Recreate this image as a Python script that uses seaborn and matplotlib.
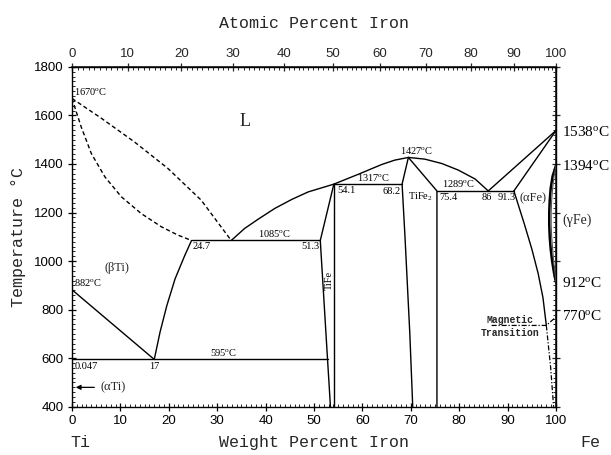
import numpy as np
import pandas as pd
import matplotlib
matplotlib.use('Agg')
from matplotlib import pyplot as plt
from matplotlib.ticker import MultipleLocator, FixedLocator, NullFormatter
import seaborn as sns

# Ti-Fe phase diagram, weight percent Fe vs temperature (deg C)
liq_left_wt = [0, 6.1, 12.9, 19.8, 26.7, 32.9]
liq_left_T = [1670, 1588, 1491, 1382, 1251, 1085]
sol_beta_wt = [0, 1.9, 4.0, 6.8, 10.2, 14.3, 18.5, 21.9, 24.7]
sol_beta_T = [1670, 1553, 1443, 1347, 1265, 1196, 1141, 1107, 1085]
liq_mid_wt = [32.9, 35.7, 38.5, 41.9, 45.4, 48.8, 54.1, 59.2, 64.0, 66.7, 69.5,
              72.9, 76.4, 79.8, 83.3, 86.0]
liq_mid_T = [1085, 1135, 1173, 1217, 1254, 1285, 1317, 1358, 1398, 1416, 1427,
             1420, 1402, 1375, 1338, 1289]
beta_solvus_wt = [17.0, 18.2, 19.6, 21.3, 23.3, 24.7]
beta_solvus_T = [595, 708, 817, 927, 1023, 1085]
beta_transus_wt = [0, 17.0]
beta_transus_T = [882, 595]
tife_left_wt = [54.1, 51.3, 52.8, 53.4]
tife_left_T = [1317, 1085, 595, 400]
tife_right_wt = [54.1, 54.1]
tife_right_T = [1317, 400]
tife2_left_wt = [69.5, 68.2, 68.8, 69.3, 69.8, 70.4]
tife2_left_T = [1427, 1317, 1100, 900, 700, 400]
tife2_right_wt = [69.5, 75.4, 75.4]
tife2_right_T = [1427, 1289, 400]
fe_liq_wt = [86.0, 100.0]
fe_liq_T = [1289, 1538]
fe_sol_wt = [91.3, 100.0]
fe_sol_T = [1289, 1538]
alpha_solvus_wt = [91.3, 93.5, 95.0, 96.3, 97.3, 98.0]
alpha_solvus_T = [1289, 1150, 1050, 950, 850, 735]
alpha_solvus_low_wt = [98.0, 98.9, 99.5]
alpha_solvus_low_T = [735, 560, 400]
gamma_T = [1394, 1350, 1300, 1250, 1200, 1150, 1100, 1050, 1000, 950, 912]
gamma_outer_wt = [100, 99.3, 98.9, 98.7, 98.6, 98.6, 98.7, 98.9, 99.2, 99.6, 100]
gamma_inner_wt = [100, 99.6, 99.3, 99.1, 99.0, 99.0, 99.1, 99.3, 99.5, 99.8, 100]
magnetic_wt = [86.7, 98.0, 100.0]
magnetic_T = [735, 735, 770]

isotherm_T = [1085, 595, 1317, 1289]
isotherm_from = [24.7, 0.0, 54.1, 75.4]
isotherm_to = [51.3, 52.8, 68.2, 91.3]

top_ticks = [0, 10, 20, 30, 40, 50, 60, 70, 80, 90, 100]

M_FE, M_TI = 55.845, 47.867


def wt2at(w):
    w = np.clip(np.asarray(w, dtype=float), 0, 100)
    a = w / M_FE
    b = (100 - w) / M_TI
    return 100 * a / np.maximum(a + b, 1e-12)


def at2wt(a):
    a = np.clip(np.asarray(a, dtype=float), 0, 100)
    f = a * M_FE
    t = (100 - a) * M_TI
    return 100 * f / np.maximum(f + t, 1e-12)


sns.set_theme(style='white')
plt.rcParams['font.family'] = ['Liberation Sans', 'DejaVu Sans']
plt.rcParams['mathtext.fontset'] = 'custom'
plt.rcParams['mathtext.rm'] = 'Liberation Serif'
plt.rcParams['mathtext.it'] = 'Liberation Serif:italic'

fig = plt.figure(figsize=(6.11, 4.55), dpi=100)
ax = fig.add_axes([0.1178, 0.106, 0.7922, 0.747])

solid = dict(color='black', lw=1.0, sort=False, estimator=None, ax=ax)


def curve(xs, ys, **kw):
    df = pd.DataFrame({'wt': xs, 'T': ys})
    opts = dict(solid)
    opts.update(kw)
    sns.lineplot(data=df, x='wt', y='T', **opts)


dash = (0, (3, 2))
dashdot = (0, (4, 1.5, 1, 1.5))
curve(liq_left_wt, liq_left_T, linestyle=dash)
curve(sol_beta_wt, sol_beta_T, linestyle=dash)
curve(liq_mid_wt, liq_mid_T)
curve(beta_solvus_wt, beta_solvus_T)
curve(beta_transus_wt, beta_transus_T)
curve(tife_left_wt, tife_left_T)
curve(tife_right_wt, tife_right_T)
curve(tife2_left_wt, tife2_left_T)
curve(tife2_right_wt, tife2_right_T)
curve(fe_liq_wt, fe_liq_T)
curve(fe_sol_wt, fe_sol_T)
curve(alpha_solvus_wt, alpha_solvus_T)
curve(alpha_solvus_low_wt, alpha_solvus_low_T, linestyle=dashdot, lw=0.9)
curve(gamma_outer_wt, gamma_T, lw=1.8)
curve(gamma_inner_wt, gamma_T, lw=0.8, color='#555555')
curve(magnetic_wt, magnetic_T, linestyle=dashdot, lw=0.9)
for T, a, b in zip(isotherm_T, isotherm_from, isotherm_to):
    curve([a, b], [T, T])

ax.set_xlim(0, 100)
ax.set_ylim(400, 1800)
ax.xaxis.set_major_locator(MultipleLocator(10))
ax.xaxis.set_minor_locator(MultipleLocator(1))
ax.yaxis.set_major_locator(MultipleLocator(200))
ax.yaxis.set_minor_locator(MultipleLocator(20))
ax.tick_params(which='major', direction='inout', length=6, width=0.9,
               labelsize=9.5, pad=3, left=True, bottom=True, colors='black')
ax.tick_params(which='minor', direction='in', length=2.5, width=0.7,
               left=True, bottom=True)
for s in ax.spines.values():
    s.set_color('black')
    s.set_linewidth(1.0)
ax.set_xlabel('Weight Percent Iron', family='Liberation Mono', fontsize=12, labelpad=6)
ax.set_ylabel('Temperature °C', family='Liberation Mono', fontsize=12, labelpad=6)

top = ax.secondary_xaxis('top', functions=(wt2at, at2wt))
top.xaxis.set_major_locator(FixedLocator(top_ticks))
top.xaxis.set_minor_locator(FixedLocator(list(range(1, 100))))
top.tick_params(which='major', direction='inout', length=6, width=0.9, labelsize=9.5, pad=2)
top.tick_params(which='minor', direction='in', length=2.5, width=0.7)
top.set_xlabel('Atomic Percent Iron', family='Liberation Mono', fontsize=12, labelpad=14)

right = ax.secondary_yaxis('right')
right.yaxis.set_major_locator(MultipleLocator(200))
right.yaxis.set_minor_locator(MultipleLocator(20))
right.yaxis.set_major_formatter(NullFormatter())
right.tick_params(which='major', direction='inout', length=6, width=0.9)
right.tick_params(which='minor', direction='in', length=2.5, width=0.7)

serif = 'Liberation Serif'
deg = r'$^{\rm o}$C'
small = dict(family=serif, fontsize=7.5, color='black')
ax.text(0.5, 1678, '1670' + deg, ha='left', va='bottom', **small)
ax.text(35.8, 1574, 'L', family=serif, fontsize=13, ha='center', va='center')
ax.text(41.9, 1092, '1085' + deg, ha='center', va='bottom', **small)
ax.text(25.0, 1060, '24.7', ha='left', va='center', **small)
ax.text(51.1, 1060, '51.3', ha='right', va='center', **small)
ax.text(54.8, 1290, '54.1', ha='left', va='center', **small)
ax.text(67.8, 1287, '68.2', ha='right', va='center', **small)
ax.text(62.3, 1323, '1317' + deg, ha='center', va='bottom', **small)
ax.text(71.2, 1433, '1427' + deg, ha='center', va='bottom', **small)
ax.text(71.9, 1265, r'TiFe$_{\rm 2}$', ha='center', va='center', **small)
ax.text(77.8, 1262, '75.4', ha='center', va='center', **small)
ax.text(79.8, 1296, '1289' + deg, ha='center', va='bottom', **small)
ax.text(85.7, 1262, '86', ha='center', va='center', **small)
ax.text(89.8, 1262, '91.3', ha='center', va='center', **small)
ax.text(95.3, 1258, '(αFe)', family=serif, fontsize=9, ha='center', va='center')
ax.text(53.2, 922, 'TiFe', rotation=90, ha='center', va='center', **small)
ax.text(9.2, 970, '(βTi)', family=serif, fontsize=9, ha='center', va='center')
ax.text(0.4, 890, '882' + deg, ha='left', va='bottom', **small)
ax.text(31.3, 600, '595' + deg, ha='center', va='bottom', **small)
ax.text(0.5, 565, '0.047', ha='left', va='center', **small)
ax.text(17.1, 567, '17', ha='center', va='center', **small)
ax.text(5.8, 480, '(αTi)', family=serif, fontsize=9, ha='left', va='center')
ax.annotate('', xy=(0.2, 480), xytext=(5.2, 480),
            arrowprops=dict(arrowstyle='-|>', color='black', lw=0.9, mutation_scale=7))
ax.text(90.5, 757, 'Magnetic', family='Liberation Mono', fontsize=7, weight='bold',
        ha='center', va='center')
ax.text(90.5, 702, 'Transition', family='Liberation Mono', fontsize=7, weight='bold',
        ha='center', va='center')

big = dict(family=serif, fontsize=11, ha='left', va='center', color='black')
ax.text(101.3, 1532, '1538' + deg, **big)
ax.text(101.3, 1392, '1394' + deg, **big)
ax.text(101.3, 1170, '(γFe)', family=serif, fontsize=10, ha='left', va='center')
ax.text(101.3, 908, '912' + deg, **big)
ax.text(101.3, 772, '770' + deg, **big)

fig.text(0.131, 0.027, 'Ti', family='Liberation Mono', fontsize=12, ha='center', va='center')
fig.text(0.966, 0.027, 'Fe', family='Liberation Mono', fontsize=12, ha='center', va='center')

fig.savefig('out.png', dpi=100)
